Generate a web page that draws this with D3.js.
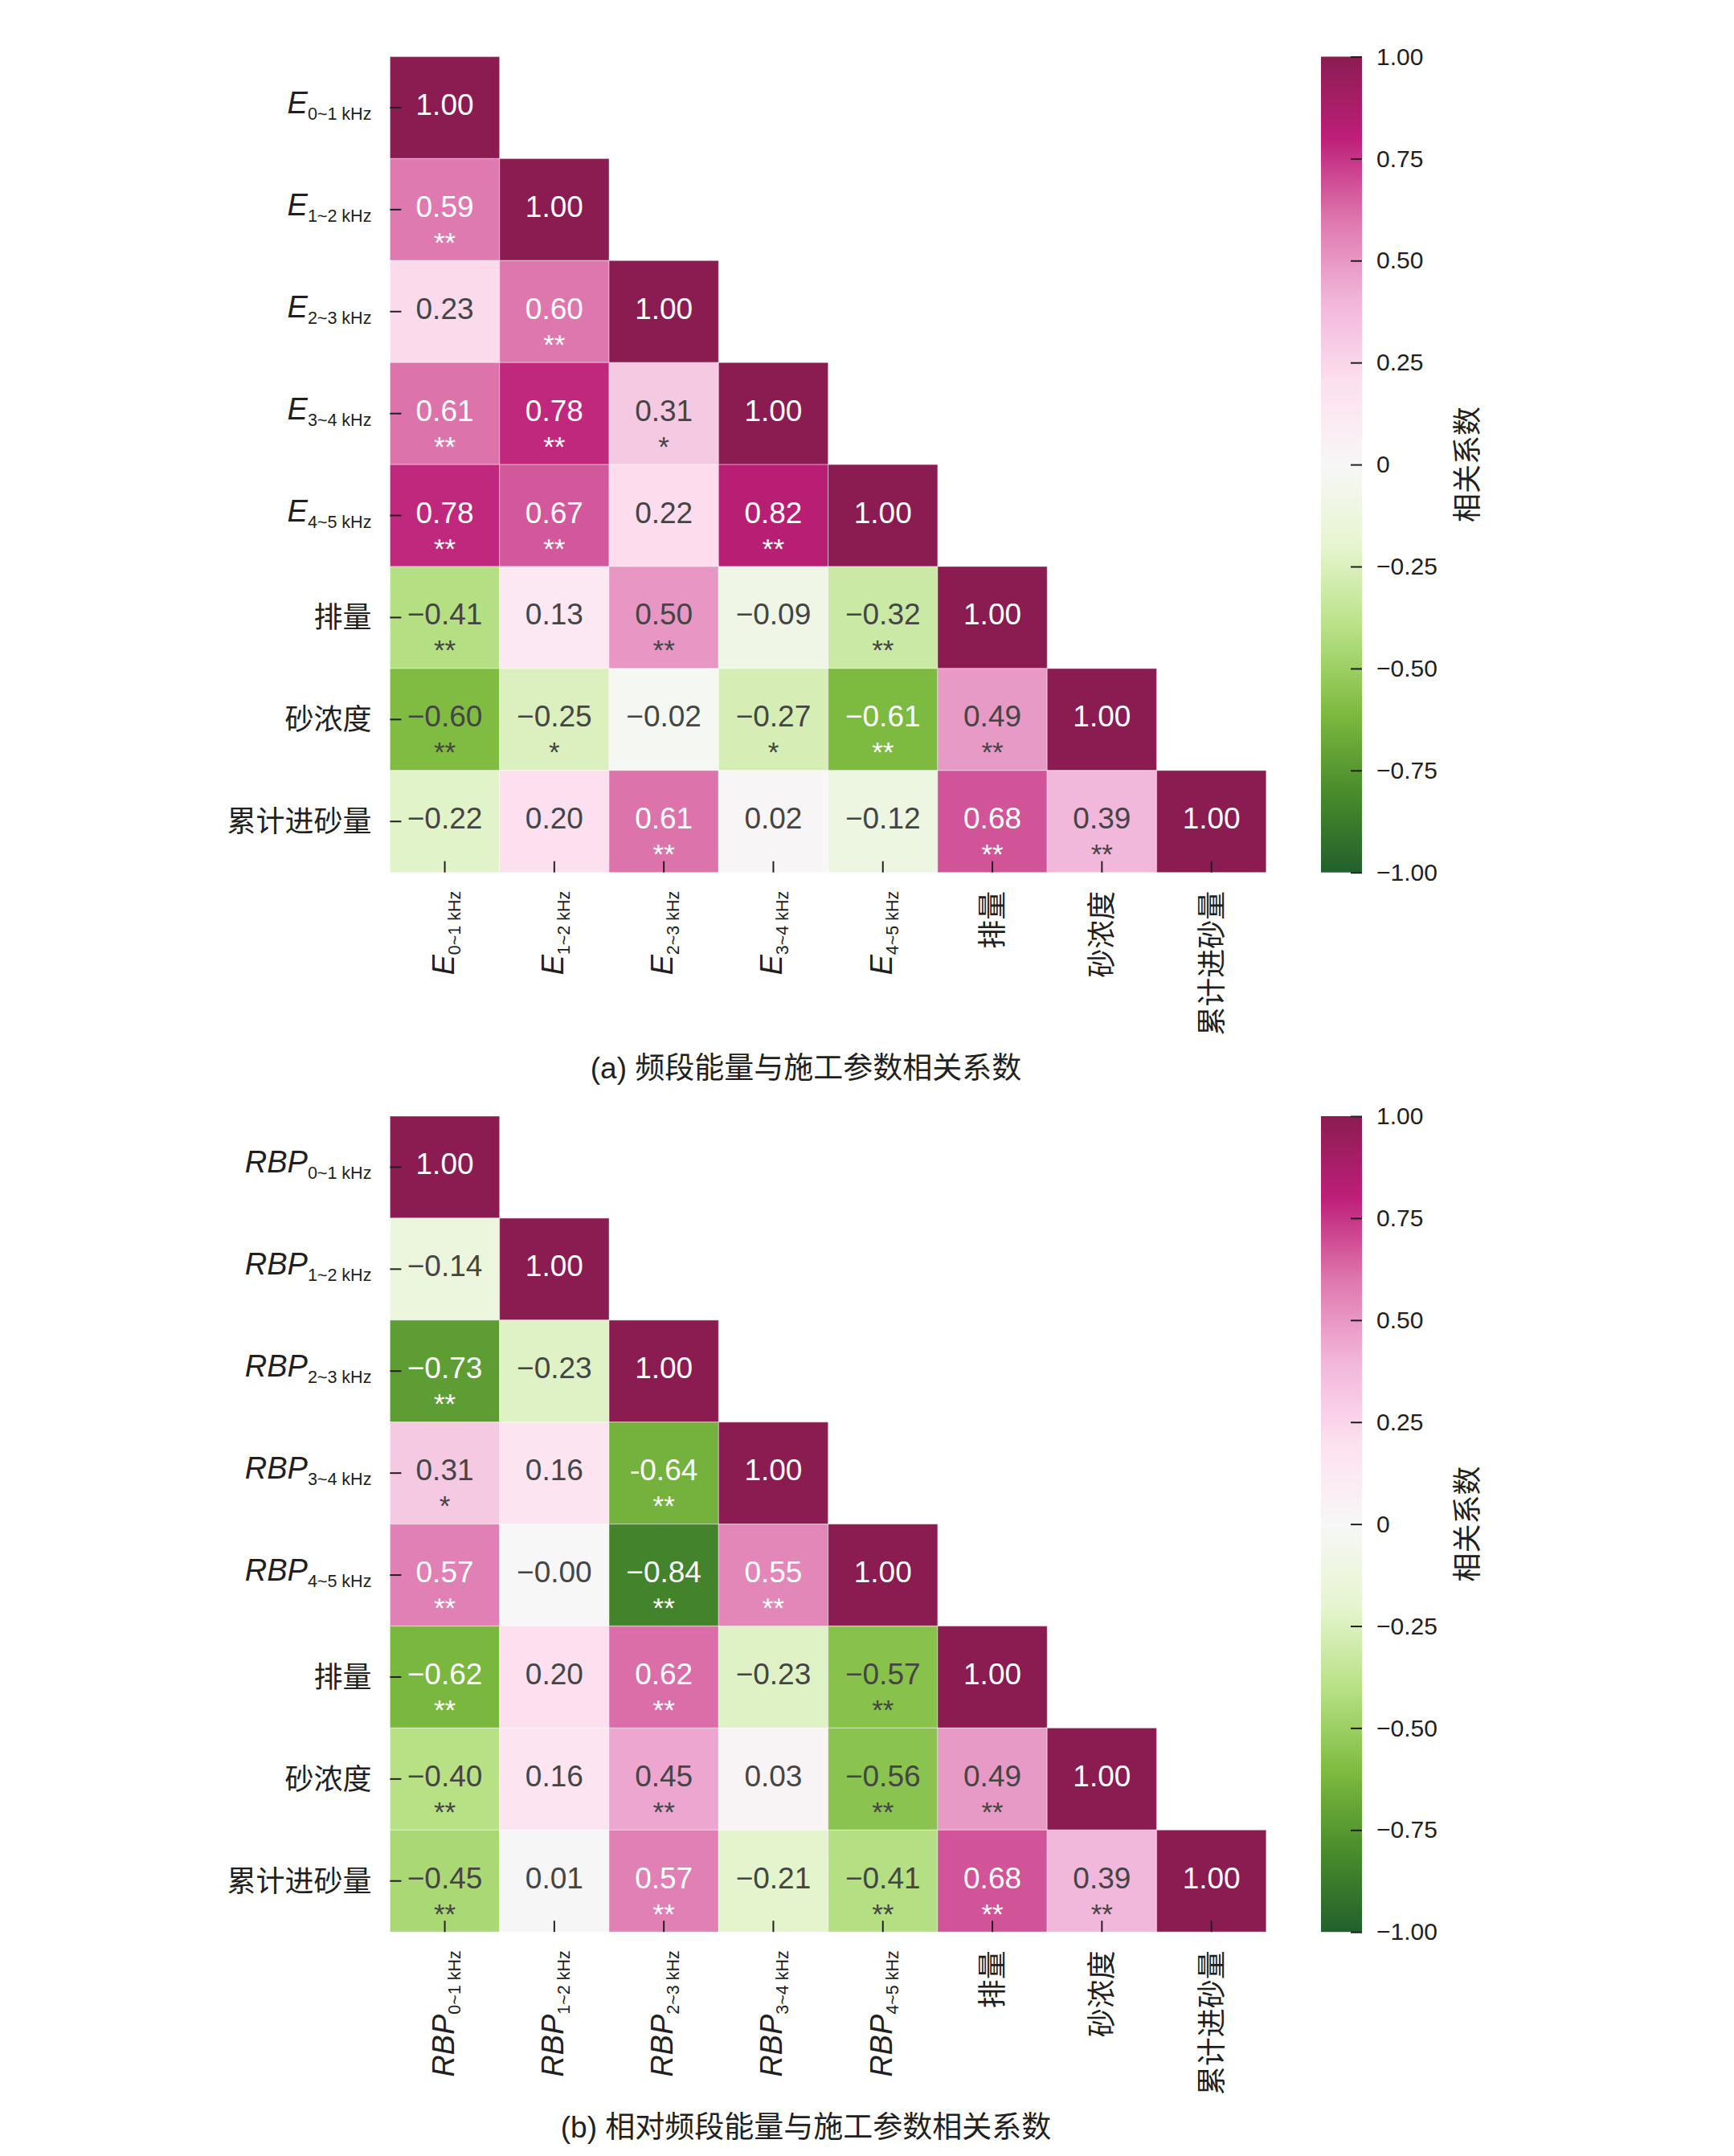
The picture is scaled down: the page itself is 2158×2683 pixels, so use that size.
<!DOCTYPE html>
<html>
<head>
<meta charset="utf-8">
<script src="https://cdn.jsdelivr.net/npm/d3@7"></script>
<style>
  body { margin: 0; background: #fff; }
  text { font-family: "Liberation Sans", Arial, "Noto Sans CJK SC", sans-serif; fill: #231f20; }
</style>
</head>
<body>
<div id="chart"></div>
<script>
// categories (rows / columns of both matrices)
const bands = ["0~1 kHz", "1~2 kHz", "2~3 kHz", "3~4 kHz", "4~5 kHz"];
const params = ["排量", "砂浓度", "累计进砂量"];

// (a) band energy E vs construction parameters, lower triangle
const valuesA = [
  [1.00],
  [0.59, 1.00],
  [0.23, 0.60, 1.00],
  [0.61, 0.78, 0.31, 1.00],
  [0.78, 0.67, 0.22, 0.82, 1.00],
  [-0.41, 0.13, 0.50, -0.09, -0.32, 1.00],
  [-0.60, -0.25, -0.02, -0.27, -0.61, 0.49, 1.00],
  [-0.22, 0.20, 0.61, 0.02, -0.12, 0.68, 0.39, 1.00]
];
const starsA = [
  [""],
  ["**", ""],
  ["", "**", ""],
  ["**", "**", "*", ""],
  ["**", "**", "", "**", ""],
  ["**", "", "**", "", "**", ""],
  ["**", "*", "", "*", "**", "**", ""],
  ["", "", "**", "", "", "**", "**", ""]
];

// (b) relative band energy RBP vs construction parameters
const valuesB = [
  [1.00],
  [-0.14, 1.00],
  [-0.73, -0.23, 1.00],
  [0.31, 0.16, -0.64, 1.00],
  [0.57, -0.001, -0.84, 0.55, 1.00],
  [-0.62, 0.20, 0.62, -0.23, -0.57, 1.00],
  [-0.40, 0.16, 0.45, 0.03, -0.56, 0.49, 1.00],
  [-0.45, 0.01, 0.57, -0.21, -0.41, 0.68, 0.39, 1.00]
];
const starsB = [
  [""],
  ["", ""],
  ["**", "", ""],
  ["*", "", "**", ""],
  ["**", "", "**", "**", ""],
  ["**", "", "**", "", "**", ""],
  ["**", "", "**", "", "**", "**", ""],
  ["**", "", "**", "", "**", "**", "**", ""]
];
// cell printed with a plain hyphen instead of a minus sign
const hyphenB = [[3, 2]];

const colorTicks = [1, 0.75, 0.5, 0.25, 0, -0.25, -0.5, -0.75, -1];
const captionA = "(a) 频段能量与施工参数相关系数";
const captionB = "(b) 相对频段能量与施工参数相关系数";

// layout
const W = 2158, H = 2683;
const left = 485.4, cellW = 136.3, cellH = 126.9;
const n = bands.length + params.length;
const heatH = n * cellH;
const cbX = 1644, cbW = 51;

const svg = d3.select("#chart").append("svg")
  .attr("width", W)
  .attr("height", H);

// PiYG anchors, ends a little muted as in the printed figure
const piyg = d3.schemePiYG[11].slice();
piyg[0] = "#8b1c52";
piyg[1] = "#bd1f78";
piyg[9] = "#4a8c2c";
piyg[10] = "#22602c";
const color = d3.scaleLinear()
  .domain(d3.range(11).map(i => 1 - i * 0.2))
  .range(piyg);

function luminance(c) {
  const rgb = d3.rgb(c);
  const lin = v => { v /= 255; return v <= 0.03928 ? v / 12.92 : Math.pow((v + 0.055) / 1.055, 2.4); };
  return 0.2126 * lin(rgb.r) + 0.7152 * lin(rgb.g) + 0.0722 * lin(rgb.b);
}

function fmt(v, hyphen) {
  return (v < 0 ? (hyphen ? "-" : "\u2212") : "") + Math.abs(v).toFixed(2);
}

function fmtTick(v) {
  return v === 0 ? "0" : (v < 0 ? "\u2212" : "") + Math.abs(v).toFixed(2);
}

// label with italic symbol and subscript band, or plain chinese name
function fillLabel(sel, i, symbol) {
  sel.text(null);
  if (i < bands.length) {
    sel.append("tspan").attr("font-style", "italic").attr("font-size", 38).text(symbol);
    sel.append("tspan").attr("font-size", 21.5).attr("dy", 8).text(bands[i]);
  } else {
    sel.text(params[i - bands.length]);
  }
}

function drawPanel(cfg) {
  const g = svg.append("g").attr("transform", `translate(0, ${cfg.top})`);

  const x = d3.scaleBand().domain(d3.range(n)).range([left, left + n * cellW]);
  const y = d3.scaleBand().domain(d3.range(n)).range([0, heatH]);

  const cells = cfg.values.flatMap((row, i) => row.map((v, j) => ({
    i, j, v,
    star: cfg.stars[i][j],
    hyphen: cfg.hyphen.some(h => h[0] === i && h[1] === j)
  })));

  g.selectAll("rect.cell")
    .data(cells)
    .join("rect")
    .attr("class", "cell")
    .attr("x", d => x(d.j))
    .attr("y", d => y(d.i))
    .attr("width", x.bandwidth())
    .attr("height", y.bandwidth())
    .attr("fill", d => color(d.v))
    .attr("stroke", "rgba(255,255,255,0.35)")
    .attr("stroke-width", 1.2);

  const textColor = d => luminance(color(d.v)) > 0.403 ? "#454545" : "#ffffff";

  g.selectAll("text.val")
    .data(cells)
    .join("text")
    .attr("class", "val")
    .attr("x", d => x(d.j) + x.bandwidth() / 2)
    .attr("y", d => y(d.i) + y.bandwidth() / 2 + 9)
    .attr("text-anchor", "middle")
    .attr("font-size", 37)
    .style("fill", textColor)
    .text(d => fmt(d.v, d.hyphen));

  g.selectAll("text.star")
    .data(cells.filter(d => d.star))
    .join("text")
    .attr("class", "star")
    .attr("x", d => x(d.j) + x.bandwidth() / 2)
    .attr("y", d => y(d.i) + y.bandwidth() / 2 + 53)
    .attr("text-anchor", "middle")
    .attr("font-size", 35)
    .style("fill", textColor)
    .text(d => d.star);

  // y axis, ticks pointing inward
  const yAxis = g.append("g")
    .attr("transform", `translate(${left}, 0)`)
    .call(d3.axisLeft(y).tickSize(-14).tickPadding(23));
  yAxis.select(".domain").remove();
  yAxis.selectAll(".tick line").attr("stroke", "#231f20").attr("stroke-width", 2);
  yAxis.selectAll(".tick text")
    .attr("font-size", 36)
    .attr("dy", null)
    .each(function(i) {
      const t = d3.select(this);
      t.attr("y", i < bands.length ? 7 : 13);
      fillLabel(t, i, cfg.symbol);
    });

  // x axis, rotated labels
  const xAxis = g.append("g")
    .attr("transform", `translate(0, ${heatH})`)
    .call(d3.axisBottom(x).tickSize(-14));
  xAxis.select(".domain").remove();
  xAxis.selectAll(".tick line").attr("stroke", "#231f20").attr("stroke-width", 2);
  xAxis.selectAll(".tick text")
    .attr("font-size", 36)
    .attr("transform", "rotate(-90)")
    .attr("text-anchor", "end")
    .attr("x", -23)
    .attr("dy", null)
    .each(function(i) {
      const t = d3.select(this);
      t.attr("y", i < bands.length ? 11 : 13);
      fillLabel(t, i, cfg.symbol);
    });

  // colorbar
  const gradId = "grad-" + cfg.id;
  const grad = svg.append("defs").append("linearGradient")
    .attr("id", gradId)
    .attr("x1", 0).attr("y1", 0).attr("x2", 0).attr("y2", 1);
  grad.selectAll("stop")
    .data(d3.range(0, 1.0001, 0.05))
    .join("stop")
    .attr("offset", t => t)
    .attr("stop-color", t => color(1 - 2 * t));

  const cb = g.append("g").attr("transform", `translate(${cbX}, 0)`);
  cb.append("rect")
    .attr("width", cbW)
    .attr("height", heatH)
    .attr("fill", `url(#${gradId})`);

  const cbScale = d3.scaleLinear().domain([-1, 1]).range([heatH, 0]);
  const cbAxis = cb.append("g")
    .attr("transform", `translate(${cbW}, 0)`)
    .call(d3.axisRight(cbScale).tickValues(colorTicks).tickSize(-14).tickPadding(18).tickFormat(fmtTick));
  cbAxis.select(".domain").remove();
  cbAxis.selectAll(".tick line").attr("stroke", "#231f20").attr("stroke-width", 2);
  cbAxis.selectAll(".tick text").attr("font-size", 30);

  cb.append("text")
    .attr("transform", `translate(182, ${heatH / 2}) rotate(-90)`)
    .attr("text-anchor", "middle")
    .attr("dominant-baseline", "central")
    .attr("font-size", 36)
    .text("相关系数");

  // caption
  g.append("text")
    .attr("x", 1003)
    .attr("y", 1271)
    .attr("text-anchor", "middle")
    .attr("font-size", 37)
    .text(cfg.caption);
}

drawPanel({ id: "a", top: 70.5, symbol: "E", values: valuesA, stars: starsA, hyphen: [], caption: captionA });
drawPanel({ id: "b", top: 1389, symbol: "RBP", values: valuesB, stars: starsB, hyphen: hyphenB, caption: captionB });
</script>
</body>
</html>
